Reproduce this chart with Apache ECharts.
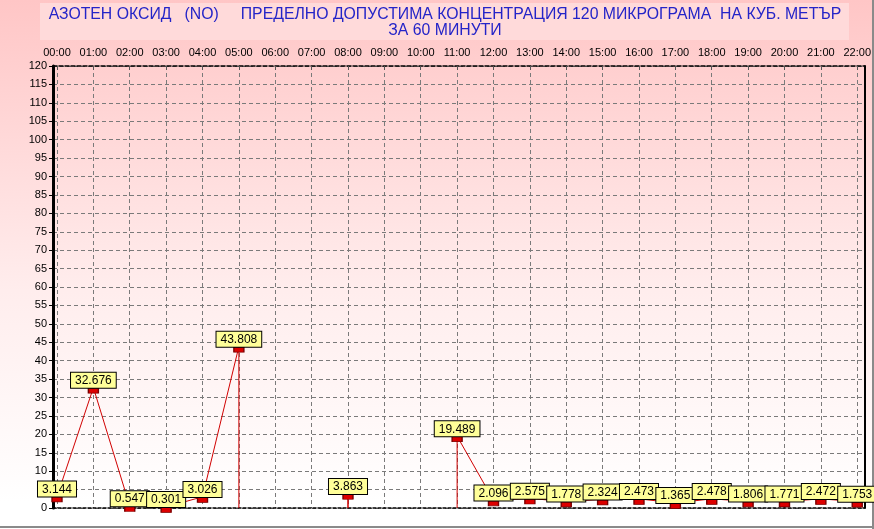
<!DOCTYPE html>
<html>
<head>
<meta charset="utf-8">
<script src="https://cdn.jsdelivr.net/npm/echarts@6/dist/echarts.min.js"></script>
<style>html,body{margin:0;padding:0;background:#fff}#c{width:874px;height:529px}</style>
</head>
<body>
<div id="c"></div>
<script>
var titleLine1 = 'АЗОТЕН ОКСИД   (NO)     ПРЕДЕЛНО ДОПУСТИМА КОНЦЕНТРАЦИЯ 120 МИКРОГРАМА  НА КУБ. МЕТЪР';
var titleLine2 = 'ЗА 60 МИНУТИ';
var hours = ['00:00','01:00','02:00','03:00','04:00','05:00','06:00','07:00','08:00','09:00','10:00','11:00',
             '12:00','13:00','14:00','15:00','16:00','17:00','18:00','19:00','20:00','21:00','22:00'];
var values = [3.144, 32.676, 0.547, 0.301, 3.026, 43.808, null, null, 3.863, null, null, 19.489,
              2.096, 2.575, 1.778, 2.324, 2.473, 1.365, 2.478, 1.806, 1.771, 2.472, 1.753];
var yMin = 0, yMax = 120, yStep = 5;

var hourIdx = hours.map(function(h, i){ return i; });
var lineData = [];
var pointData = [];
for (var i = 0; i < values.length; i++) {
  var v = values[i];
  if (v === null) { lineData.push([i, '-']); continue; }
  if (i > 0 && values[i-1] === null) lineData.push([i, 0]);
  lineData.push([i, v]);
  if (i < values.length - 1 && values[i+1] === null) lineData.push([i, 0]);
  pointData.push([i, v]);
}

var titleFont = {fontFamily: '"Liberation Sans", Arial', fontSize: 15.8, fill: '#2424c8', textAlign: 'center', textVerticalAlign: 'middle'};
var chart = echarts.init(document.getElementById('c'));
var option = {
  backgroundColor: {
    type: 'linear', x: 0, y: 0, x2: 0, y2: 1,
    colorStops: [{offset: 0, color: '#ffc6c6'}, {offset: 0.55, color: '#ffeded'}, {offset: 0.95, color: '#ffffff'}, {offset: 1, color: '#ffffff'}]
  },
  animation: false,
  graphic: [
    {type: 'rect', shape: {x: 40, y: 3, width: 809, height: 37}, style: {fill: '#ffdada'}, z: 0},
    {type: 'text', x: 445, y: 15, style: Object.assign({text: titleLine1}, titleFont), z: 1},
    {type: 'text', x: 445, y: 31, style: Object.assign({text: titleLine2}, titleFont), z: 1},
    {type: 'line', shape: {x1: 0, y1: 527, x2: 874, y2: 527}, style: {stroke: '#8a8a8a', lineWidth: 2}},
    {type: 'line', shape: {x1: 873, y1: 0, x2: 873, y2: 529}, style: {stroke: '#8a8a8a', lineWidth: 2}}
  ],
  grid: {left: 53, right: 9, top: 66, bottom: 21},
  xAxis: [{
    type: 'value', position: 'top', min: -0.11, max: 22.2,
    axisLine: {show: true, onZero: false, lineStyle: {color: '#000', width: 1.5, type: [4, 2]}},
    axisTick: {show: true, customValues: hourIdx, length: 4, inside: true, lineStyle: {color: '#555'}},
    axisLabel: {show: true, customValues: hourIdx, margin: 8, fontSize: 11, color: '#000',
      fontFamily: '"Liberation Sans", Arial',
      formatter: function(val){ return hours[Math.round(val)] || ''; }},
    splitLine: {show: true, lineStyle: {color: '#7a7a7a', width: 1, type: [4, 3]}}
  }, {
    type: 'value', position: 'bottom', min: -0.11, max: 22.2,
    axisLine: {show: true, onZero: false, lineStyle: {color: '#000', width: 1.5, type: [3, 2]}},
    axisTick: {show: false}, axisLabel: {show: false}, splitLine: {show: false}
  }],
  yAxis: [{
    type: 'value', min: yMin, max: yMax, interval: yStep,
    axisLine: {show: true, onZero: false, lineStyle: {color: '#000', width: 3}},
    axisTick: {show: true, length: 4, lineStyle: {color: '#000'}},
    axisLabel: {fontSize: 11, color: '#000', margin: 6, fontFamily: '"Liberation Sans", Arial'},
    splitLine: {show: true, lineStyle: {color: '#7a7a7a', width: 1, type: [4, 3]}}
  }, {
    type: 'value', position: 'right', min: yMin, max: yMax, interval: yStep,
    axisLine: {show: true, onZero: false, lineStyle: {color: '#000', width: 2}},
    axisTick: {show: false}, axisLabel: {show: false}, splitLine: {show: false}
  }],
  series: [{
    type: 'line', data: lineData, xAxisIndex: 0, yAxisIndex: 0,
    symbol: 'none', connectNulls: false,
    lineStyle: {color: '#d00000', width: 1}, z: 3
  }, {
    type: 'scatter', data: pointData, xAxisIndex: 0, yAxisIndex: 0,
    symbol: 'rect', symbolSize: [10, 5], symbolOffset: [0, 3],
    itemStyle: {color: '#dd0000', borderColor: '#7a0000', borderWidth: 1, opacity: 1},
    label: {
      show: true, position: 'top', distance: 0,
      formatter: function(p){ return p.value[1].toFixed(3); },
      fontFamily: '"Liberation Sans", Arial', fontSize: 12, color: '#000',
      backgroundColor: '#ffff99', borderColor: '#000', borderWidth: 1, padding: [2, 4, 1, 4]
    },
    labelLayout: {hideOverlap: false},
    z: 4
  }]
};
chart.setOption(option);
</script>
</body>
</html>
